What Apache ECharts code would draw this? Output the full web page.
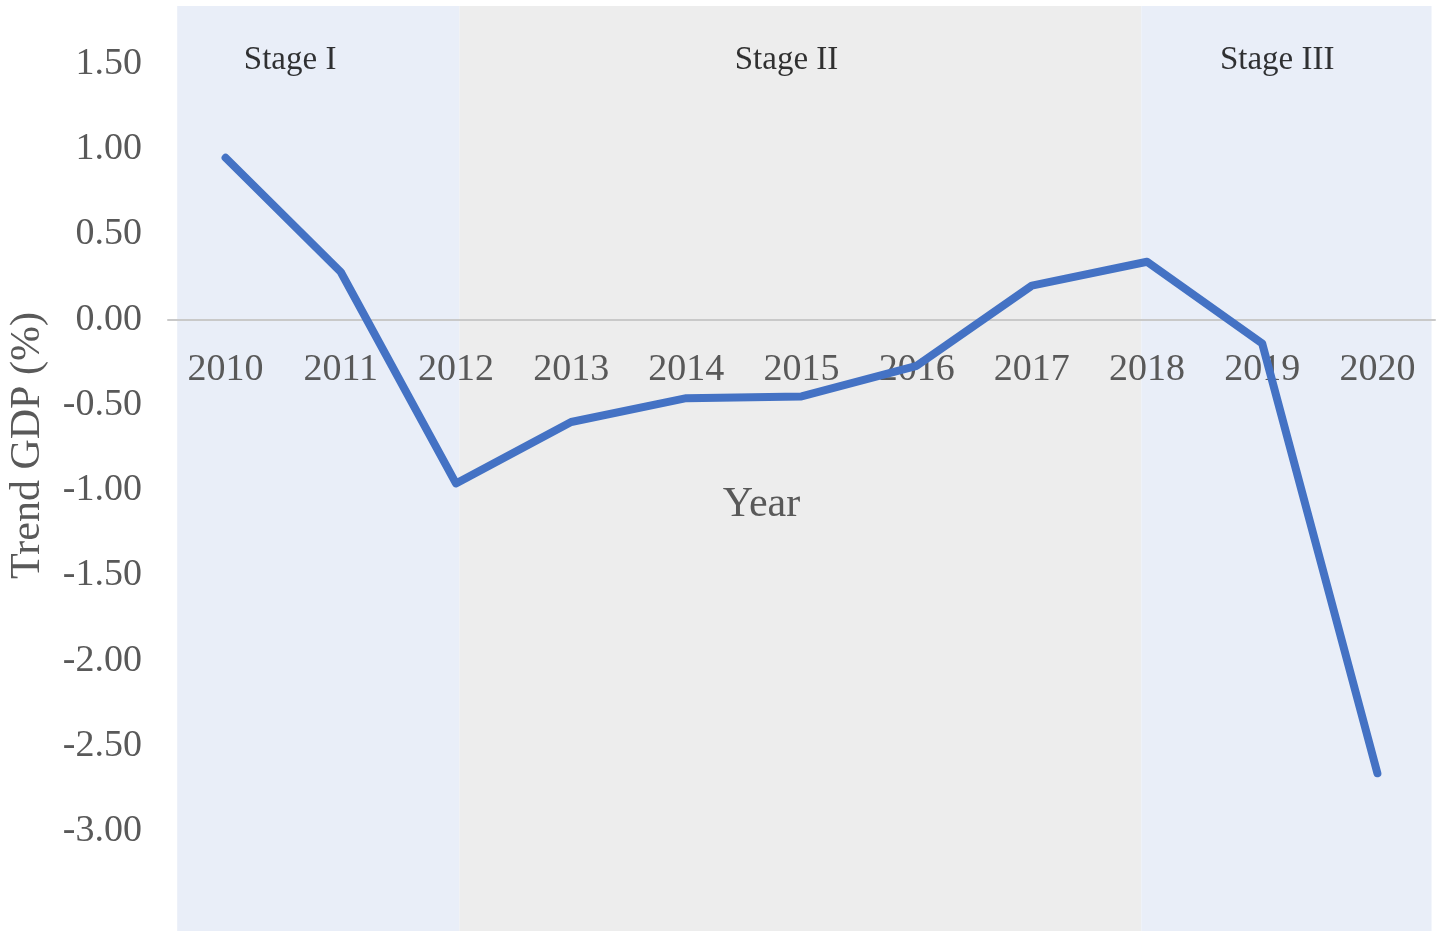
<!DOCTYPE html>
<html>
<head>
<meta charset="utf-8">
<title>Trend GDP</title>
<script src="https://cdn.jsdelivr.net/npm/echarts@6/dist/echarts.min.js"></script>
<style>
  html, body { margin: 0; padding: 0; background: #fff; }
  #chart { width: 1441px; height: 937px; }
</style>
</head>
<body>
<div id="chart"></div>
<script>
// data
const years = ['2010', '2011', '2012', '2013', '2014', '2015', '2016', '2017', '2018', '2019', '2020']
const trendGdp = [0.95, 0.28, -0.96, -0.60, -0.46, -0.45, -0.27, 0.20, 0.34, -0.14, -2.66]
const yTicks = [1.5, 1.0, 0.5, 0.0, -0.5, -1.0, -1.5, -2.0, -2.5, -3.0]

// stage bands, in category units (0 = left edge of 2010 band)
const stageNames = ['Stage I', 'Stage II', 'Stage III']
const stageBounds = [0.08, 2.53, 8.45, 10.97]
const stageColors = ['#E9EEF8', '#EDEDED', '#E9EEF8']
const stageLabelX = [1.06, 5.37, 9.63]
const stageLabelY = 1.52

const serif = '"Liberation Serif", "Times New Roman", serif'
const grey = '#595959'

const chart = echarts.init(document.getElementById('chart'))

// v6 keeps labels at the grid edge even with onZero, so lift the x axis up to y = 0 by hand
const gridTop = 6
const gridBottom = 6
const yMin = -3.585
const yMax = 1.84
const gridH = 937 - gridTop - gridBottom
const zeroLift = gridH * (-yMin) / (yMax - yMin)

const option = {
  backgroundColor: '#fff',
  animation: false,
  grid: { left: 168, right: 6, top: gridTop, bottom: gridBottom, outerBoundsMode: 'none', containLabel: false },
  xAxis: [
    {
      type: 'category',
      data: years,
      boundaryGap: true,
      offset: -zeroLift,
      axisLine: { onZero: false, lineStyle: { color: '#C9C9C9', width: 2 } },
      axisTick: { show: false },
      axisLabel: { color: grey, fontSize: 38, fontFamily: serif, margin: 31 },
      splitLine: { show: false },
      name: 'Year',
      nameLocation: 'middle',
      nameGap: 164,
      nameTextStyle: { color: grey, fontSize: 42, fontFamily: serif, padding: [0, 80, 0, 0] },
      z: 3,
    },
    {
      type: 'value',
      min: 0,
      max: years.length,
      show: false,
    },
  ],
  yAxis: {
    type: 'value',
    min: yMin,
    max: yMax,
    axisLine: { show: false },
    axisTick: { show: false },
    splitLine: { show: false },
    axisLabel: {
      customValues: yTicks,
      color: grey,
      fontSize: 38,
      fontFamily: serif,
      margin: 26,
      formatter: (v) => v.toFixed(2),
    },
    name: 'Trend GDP (%)',
    nameLocation: 'middle',
    nameRotate: 90,
    nameGap: 119,
    nameTextStyle: { color: grey, fontSize: 42, fontFamily: serif, padding: [0, 0, 0, 46] },
  },
  series: [
    {
      type: 'line',
      xAxisIndex: 1,
      data: [],
      silent: true,
      z: 0,
      markArea: {
        silent: true,
        data: stageNames.map((name, i) => [
          { xAxis: stageBounds[i], itemStyle: { color: stageColors[i] } },
          { xAxis: stageBounds[i + 1] },
        ]),
      },
    },
    {
      type: 'scatter',
      xAxisIndex: 1,
      symbolSize: 0,
      silent: true,
      z: 4,
      data: stageNames.map((name, i) => ({ value: [stageLabelX[i], stageLabelY], name })),
      label: {
        show: true,
        position: 'inside',
        formatter: (p) => p.name,
        color: '#000',
        fontSize: 33,
        fontFamily: serif,
      },
    },
    {
      type: 'line',
      data: trendGdp,
      symbol: 'none',
      z: 5,
      lineStyle: { color: '#4472C4', width: 8, cap: 'round', join: 'round' },
    },
  ],
}

chart.setOption(option)
</script>
</body>
</html>
